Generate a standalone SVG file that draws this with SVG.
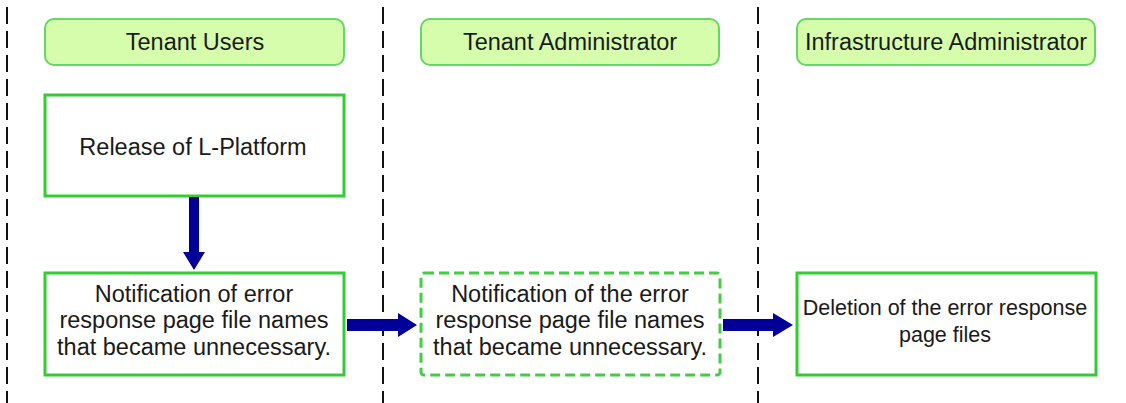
<svg xmlns="http://www.w3.org/2000/svg" width="1126" height="403" viewBox="0 0 1126 403">
<style>
.lane{stroke:#111;stroke-width:2;stroke-dasharray:17 7;fill:none}
.hdr{fill:#d6fdab;stroke:#66d666;stroke-width:2}
.box{fill:#fff;stroke:#33cc33;stroke-width:3}
.dbox{fill:#fff;stroke:#44cc44;stroke-width:3;stroke-dasharray:10 5}
.t{font-family:"Liberation Sans",Arial,sans-serif;font-size:23.5px;fill:#1a1a1a;text-anchor:middle}
.s{font-size:21.5px}
.arr{fill:#000099}
</style>
<rect width="1126" height="403" fill="#fff"/>
<g id="lanes">
<line class="lane" x1="7" y1="7" x2="7" y2="403"/>
<line class="lane" x1="383" y1="7" x2="383" y2="403"/>
<line class="lane" x1="758" y1="7" x2="758" y2="403"/>
</g>
<g id="hdr-tenant-users"><rect class="hdr" x="45" y="19" width="299" height="46" rx="9"/><text class="t" x="195" y="50">Tenant Users</text></g>
<g id="hdr-tenant-admin"><rect class="hdr" x="421" y="19" width="298" height="46" rx="9"/><text class="t" x="570" y="50">Tenant Administrator</text></g>
<g id="hdr-infra-admin"><rect class="hdr" x="797" y="19" width="298" height="46" rx="9"/><text class="t" x="946" y="50">Infrastructure Administrator</text></g>
<g id="release"><rect class="box" x="45" y="95" width="299" height="101"/><text class="t" x="193" y="155">Release of L-Platform</text></g>
<g id="notify-user"><rect class="box" x="45" y="273" width="299" height="102"/>
<text class="t" x="194" y="302">Notification of error</text>
<text class="t" x="194" y="328">response page file names</text>
<text class="t" x="194" y="355">that became unnecessary.</text></g>
<g id="notify-admin"><rect class="dbox" x="421" y="273" width="299" height="102" rx="3"/>
<text class="t" x="570" y="302">Notification of the error</text>
<text class="t" x="570" y="328">response page file names</text>
<text class="t" x="570" y="355">that became unnecessary.</text></g>
<g id="delete"><rect class="box" x="797" y="273" width="299" height="102"/>
<text class="t s" x="945" y="315">Deletion of the error response</text>
<text class="t s" x="945" y="342">page files</text></g>
<g id="connectors">
<path class="arr" d="M189,197 H199 V252 H205 L194,270 L183,252 H189 Z"/>
<path class="arr" d="M347,319 H398 V313 L417,325 L398,337 V331 H347 Z"/>
<path class="arr" d="M723,319 H773 V313 L793,325 L773,337 V331 H723 Z"/>
</g>
</svg>
